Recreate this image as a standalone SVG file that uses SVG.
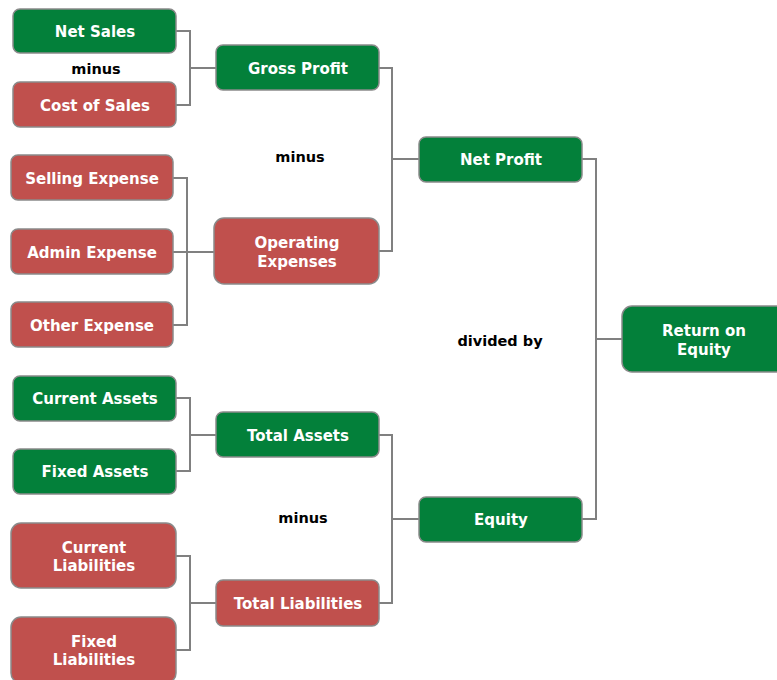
<svg xmlns="http://www.w3.org/2000/svg" width="777" height="680" viewBox="0 0 777 680">
<style>
.g{fill:#03803a;stroke:#8a8a8a;stroke-width:1.5}
.r{fill:#c0504d;stroke:#8a8a8a;stroke-width:1.5}
.t{font-family:"DejaVu Sans",Verdana,sans-serif;font-weight:bold;font-size:15px;fill:#fff;text-anchor:middle;dominant-baseline:central}
.k{font-family:"DejaVu Sans",Verdana,sans-serif;font-weight:bold;font-size:14.5px;fill:#000;text-anchor:middle;dominant-baseline:central}
.c{fill:none;stroke:#808080;stroke-width:2}
</style>
<rect width="777" height="680" fill="#fff"/>
<g id="connectors">
<path class="c" d="M176 31H190V105H176M190 68H216"/>
<path class="c" d="M173 178H187V325H173M173 252H214"/>
<path class="c" d="M379 68H392V251H379M392 159H419"/>
<path class="c" d="M582 159H596V519H582M596 339H622"/>
<path class="c" d="M176 398H190V471H176M190 435H216"/>
<path class="c" d="M176 556H190V650H176M190 603H216"/>
<path class="c" d="M379 435H392V603H379M392 519H419"/>
</g>
<g id="labels">
<text class="k" x="96" y="69">minus</text>
<text class="k" x="300" y="157">minus</text>
<text class="k" x="500" y="341">divided by</text>
<text class="k" x="303" y="518">minus</text>
</g>
<g id="net-sales"><rect class="g" x="13" y="9" width="163" height="44" rx="7"/><text class="t" x="95" y="32">Net Sales</text></g>
<g id="cost-of-sales"><rect class="r" x="13" y="82" width="163" height="45" rx="7"/><text class="t" x="95" y="106">Cost of Sales</text></g>
<g id="gross-profit"><rect class="g" x="216" y="45" width="163" height="45" rx="7"/><text class="t" x="298" y="69">Gross Profit</text></g>
<g id="selling-expense"><rect class="r" x="11" y="155" width="162" height="45" rx="7"/><text class="t" x="92" y="179">Selling Expense</text></g>
<g id="admin-expense"><rect class="r" x="11" y="229" width="162" height="45" rx="7"/><text class="t" x="92" y="253">Admin Expense</text></g>
<g id="other-expense"><rect class="r" x="11" y="302" width="162" height="45" rx="7"/><text class="t" x="92" y="326">Other Expense</text></g>
<g id="operating-expenses"><rect class="r" x="214" y="218" width="165" height="66" rx="10"/><text class="t" x="297" y="243">Operating</text><text class="t" x="297" y="262">Expenses</text></g>
<g id="net-profit"><rect class="g" x="419" y="137" width="163" height="45" rx="7"/><text class="t" x="501" y="160">Net Profit</text></g>
<g id="return-on-equity"><rect class="g" x="622" y="306" width="165" height="66" rx="10"/><text class="t" x="704" y="331">Return on</text><text class="t" x="704" y="350">Equity</text></g>
<g id="current-assets"><rect class="g" x="13" y="376" width="163" height="45" rx="7"/><text class="t" x="95" y="399">Current Assets</text></g>
<g id="fixed-assets"><rect class="g" x="13" y="449" width="163" height="45" rx="7"/><text class="t" x="95" y="472">Fixed Assets</text></g>
<g id="total-assets"><rect class="g" x="216" y="412" width="163" height="45" rx="7"/><text class="t" x="298" y="436">Total Assets</text></g>
<g id="current-liabilities"><rect class="r" x="11" y="523" width="165" height="65" rx="10"/><text class="t" x="94" y="548">Current</text><text class="t" x="94" y="566">Liabilities</text></g>
<g id="fixed-liabilities"><rect class="r" x="11" y="617" width="165" height="66" rx="10"/><text class="t" x="94" y="642">Fixed</text><text class="t" x="94" y="660">Liabilities</text></g>
<g id="total-liabilities"><rect class="r" x="216" y="580" width="163" height="46" rx="7"/><text class="t" x="298" y="604">Total Liabilities</text></g>
<g id="equity"><rect class="g" x="419" y="497" width="163" height="45" rx="7"/><text class="t" x="501" y="520">Equity</text></g>
</svg>
